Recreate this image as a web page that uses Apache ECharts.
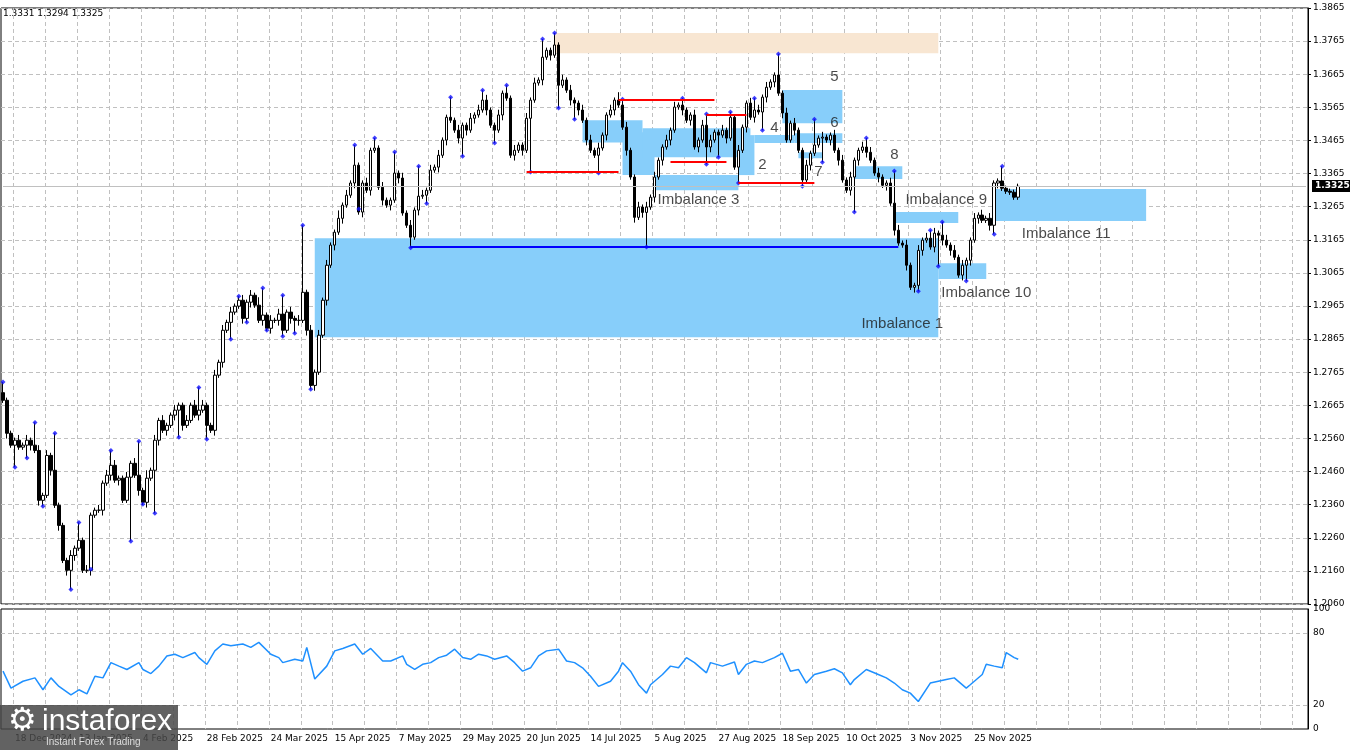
<!DOCTYPE html>
<html style="height: 100%">
<head>
    <meta charset="utf-8">
    <script src="https://cdn.jsdelivr.net/npm/echarts@6/dist/echarts.min.js"></script>
</head>
<body style="height:100%;margin:0;background:#fff">
    <div id="main" style="width:1350px;height:750px;"></div>
    <script type="text/javascript">
        // daily closes, left to right
        var closes = [
            1.2677,1.2577,1.2541,1.2556,1.2535,1.2541,1.2556,1.2541,
            1.2525,1.2374,1.2389,1.2510,1.2465,1.2359,1.2298,1.2192,
            1.2162,1.2207,1.2229,1.2253,1.2162,1.2162,1.2329,1.2344,
            1.2344,1.2426,1.2450,1.2480,1.2435,1.2441,1.2374,1.2444,
            1.2486,1.2450,1.2404,1.2368,1.2441,1.2465,1.2556,1.2616,
            1.2586,1.2601,1.2632,1.2647,1.2662,1.2601,1.2616,1.2662,
            1.2632,1.2647,1.2662,1.2601,1.2586,1.2753,1.2792,1.2889,
            1.2913,1.2944,1.2962,1.2980,1.2925,1.2974,1.2995,1.2965,
            1.2919,1.2935,1.2895,1.2919,1.2919,1.2938,1.2889,1.2944,
            1.2925,1.2919,1.2919,1.3004,1.2889,1.2722,1.2762,1.2874,
            1.2980,1.3086,1.3147,1.3186,1.3228,1.3268,1.3298,1.3335,
            1.3389,1.3247,1.3335,1.3313,1.3434,1.3441,1.3322,1.3283,
            1.3268,1.3283,1.3365,1.3350,1.3244,1.3207,1.3171,1.3253,
            1.3295,1.3298,1.3313,1.3374,1.3383,1.3419,1.3465,1.3534,
            1.3525,1.3495,1.3471,1.3510,1.3495,1.3531,1.3541,1.3556,
            1.3586,1.3556,1.3510,1.3495,1.3541,1.3607,1.3592,1.3419,
            1.3434,1.3450,1.3434,1.3531,1.3586,1.3638,1.3647,1.3716,
            1.3737,1.3722,1.3753,1.3631,1.3647,1.3616,1.3586,1.3577,
            1.3556,1.3525,1.3465,1.3434,1.3419,1.3441,1.3480,1.3541,
            1.3556,1.3586,1.3571,1.3504,1.3434,1.3353,1.3231,1.3262,
            1.3246,1.3262,1.3292,1.3353,1.3404,1.3444,1.3465,1.3495,
            1.3565,1.3571,1.3556,1.3525,1.3541,1.3444,1.3465,1.3510,
            1.3444,1.3465,1.3489,1.3480,1.3495,1.3471,1.3534,1.3383,
            1.3434,1.3504,1.3577,1.3534,1.3556,1.3550,1.3595,1.3625,
            1.3641,1.3662,1.3607,1.3547,1.3465,1.3516,1.3495,1.3434,
            1.3344,1.3389,1.3425,1.3450,1.3471,1.3474,1.3465,1.3480,
            1.3434,1.3404,1.3344,1.3313,1.3353,1.3404,1.3434,1.3444,
            1.3428,1.3404,1.3365,1.3353,1.3328,1.3335,1.3274,1.3192,
            1.3153,1.3147,1.3086,1.3019,1.3025,1.3131,1.3162,1.3168,
            1.3141,1.3183,1.3177,1.3162,1.3147,1.3131,1.3110,1.3056,
            1.3086,1.3101,1.3162,1.3228,1.3238,1.3222,1.3228,1.3207,
            1.3335,1.3341,1.3319,1.3310,1.3307,1.3292,1.3325
        ];
        // wick lengths, tens of pips
        var wickUp = "2111212112121211121312112121211212113121211211212121121212112121311212112121121212113121211212121121212112121211212112121211212121121212112121211212121121312112121211212121121212112121211212121121212112121211212121121212112121211212121121212112121211";
        var wickDn = "1212111212112121212111211212121121212112121212111212121212112121121212112121212112121211212121121212112121211212112121211212121121212112121211212121121212112121211212121121212112121211212121121212112121211212121121212112121211212121121212112121211212";
        // fractal highs / lows [bar, price]
        var fractals = [
            [0,1.2732],[3,1.2474],[8,1.2610],[6,1.2502],[10,1.2356],[13,1.2577],[17,1.2104],[19,1.2307],
            [22,1.2165],[27,1.2525],[32,1.2250],[34,1.2553],[35,1.2362],[38,1.2335],[44,1.2565],[49,1.2716],
            [51,1.2559],[57,1.2862],[59,1.2992],[61,1.2913],[65,1.3017],[66,1.2889],[70,1.2995],[70,1.2871],
            [73,1.2880],[75,1.3207],[77,1.2710],[88,1.3450],[89,1.3256],[93,1.3471],[98,1.3429],[104,1.3386],
            [106,1.3273],[102,1.3139],[112,1.3595],[115,1.3416],[120,1.3616],[123,1.3456],[126,1.3631],[132,1.3368],
            [135,1.3771],[138,1.3789],[139,1.3562],[143,1.3528],[149,1.3365],[155,1.3589],[161,1.3141],[170,1.3592],
            [176,1.3544],[176,1.3392],[179,1.3413],[182,1.3550],[184,1.3335],[188,1.3592],[190,1.3495],[194,1.3726],
            [200,1.3325],[203,1.3528],[205,1.3398],[213,1.3247],[216,1.3471],[223,1.3371],[229,1.3007],[232,1.3192],
            [234,1.3083],[235,1.3217],[241,1.3038],[248,1.3180],[250,1.3386]
        ];
        var rsiBars = [0,2,5,8,10,12,14,17,19,21,23,25,27,29,31,34,35,37,39,41,43,45,48,49,51,53,55,57,60,62,64,67,69,70,73,75,76,78,81,83,85,88,90,92,95,97,100,101,103,105,107,109,111,113,115,117,119,121,123,126,128,130,132,134,136,139,141,143,145,147,149,152,154,155,157,159,161,162,165,167,169,171,173,176,177,180,183,184,186,188,190,193,195,197,199,201,203,206,208,210,212,213,216,219,221,223,225,227,229,232,234,236,238,241,242,245,246,248,250,251,253,254];
        var rsiVals = [48.2,34.1,39.8,42.6,32.7,42.6,35.5,28.5,32.7,29.3,44.0,42.6,55.3,52.4,49.6,55.3,49.6,46.2,52.4,60.9,62.3,59.5,63.7,59.5,53.9,65.1,70.8,69.3,70.8,68.0,72.2,62.3,59.5,55.3,58.1,56.7,68.0,41.7,52.4,65.1,67.1,70.8,62.3,67.1,56.7,56.7,60.9,53.9,49.6,53.9,55.3,59.5,61.5,66.5,59.5,58.1,62.3,60.9,58.1,60.9,55.3,48.2,51.0,60.9,65.1,66.5,56.7,55.3,51.0,44.0,35.5,39.8,48.2,55.3,48.2,36.9,29.9,36.9,45.4,52.4,51.0,59.5,55.3,46.8,55.3,52.4,55.8,45.4,53.9,56.7,55.3,59.5,63.1,48.2,49.6,38.3,45.4,48.2,50.2,46.8,36.9,41.2,49.6,45.4,42.6,38.3,32.7,29.9,22.9,38.3,39.8,41.2,42.6,34.1,36.9,45.4,53.9,52.4,51.0,63.7,59.5,58.1];
        var dateTicks = {3:'18 Dec 2024',19:'13 Jan 2025',35:'4 Feb 2025',51:'28 Feb 2025',67:'24 Mar 2025',83:'15 Apr 2025',99:'7 May 2025',
            115:'29 May 2025',131:'20 Jun 2025',147:'14 Jul 2025',163:'5 Aug 2025',179:'27 Aug 2025',195:'18 Sep 2025',211:'10 Oct 2025',
            227:'3 Nov 2025',243:'25 Nov 2025'};
        var priceTicks = ['1.2060','1.2160','1.2260','1.2360','1.2460','1.2560','1.2665','1.2765','1.2865','1.2965',
            '1.3065','1.3165','1.3265','1.3365','1.3465','1.3565','1.3665','1.3765','1.3865'];
        // zones [fromBar, toBar, top, bottom]
        var blueZones = [
            [78,234,1.3168,1.2868],[145,160,1.3525,1.3458],[155,163,1.3489,1.3359],[160,187,1.3501,1.3413],
            [163,184,1.3359,1.3313],[184,188,1.3480,1.3359],[188,198,1.3480,1.3456],[195,210,1.3617,1.3516],
            [198,210,1.3486,1.3456],[199,205,1.3428,1.3410],[213,225,1.3386,1.3347],[223,239,1.3247,1.3214],
            [234,246,1.3092,1.3044],[248,286,1.3317,1.3220]
        ];
        var peachZones = [[138,234,1.3789,1.3728]];
        var redLevels = [[131,154,1.3368],[154,178,1.3586],[167,181,1.3398],[176,186,1.3541],[184,203,1.3335]];
        var blueLevels = [[102,224,1.3141]];
        var notes = [
            [174,1.3283,'Imbalance 3'],[190,1.3389,'2'],[193,1.3501,'4'],[208,1.3655,'5'],[208,1.3516,'6'],
            [204,1.3368,'7'],[223,1.3420,'8'],[236,1.3283,'Imbalance 9'],[246,1.3003,'Imbalance 10'],
            [266,1.3180,'Imbalance 11'],[225,1.2907,'Imbalance 1']
        ];
        var lastPrice = 1.3325;
        var nBars = 327;

        var cats = [];
        for (var i = 0; i < nBars; i++) cats.push(String(i));

        var ohlc = [];
        var prev = 1.2700;
        closes.forEach(function (c, i) {
            var hi = Math.max(prev, c) + (+(wickUp[i] || 1)) * 0.0008;
            var lo = Math.min(prev, c) - (+(wickDn[i] || 1)) * 0.0008;
            fractals.forEach(function (f) {
                if (f[0] === i) { if (f[1] > hi) hi = f[1]; if (f[1] < lo) lo = f[1]; }
            });
            ohlc.push([prev, c, lo, hi]);
            prev = c;
        });

        var pMin = 1.2060, pMax = 1.3865, pStep = (pMax - pMin) / 18;
        var font = '"DejaVu Sans", sans-serif';

        var myChart = echarts.init(document.getElementById('main'));
        var gridLine = { show: true, lineStyle: { color: '#c0c0c0', type: [4, 3], width: 1 } };
        option = {
            animation: false,
            backgroundColor: '#fff',
            grid: [
                { left: 1, right: 42, top: 8, height: 596, show: true, borderColor: '#000', borderWidth: 1 },
                { left: 1, right: 42, top: 609, height: 120, show: true, borderColor: '#000', borderWidth: 1 }
            ],
            xAxis: [
                { type: 'category', gridIndex: 0, data: cats, axisLine: { show: false }, axisTick: { show: false },
                  axisLabel: { show: false },
                  splitLine: { show: true, interval: function (i) { return (i - 3) % 8 === 0; }, lineStyle: gridLine.lineStyle } },
                { type: 'category', gridIndex: 1, data: cats, axisLine: { show: false }, axisTick: { show: false },
                  axisLabel: { show: true, interval: function (i) { return !!dateTicks[i]; }, formatter: function (v) { return dateTicks[+v] || ''; },
                    align: 'left', margin: 5, fontSize: 9, fontFamily: font, color: '#000' },
                  splitLine: { show: true, interval: function (i) { return (i - 3) % 8 === 0; }, lineStyle: gridLine.lineStyle } }
            ],
            yAxis: [
                { type: 'value', gridIndex: 0, position: 'right', min: pMin, max: pMax, interval: pStep,
                  axisLine: { show: true, lineStyle: { color: '#000' } }, axisTick: { show: true, length: 3, lineStyle: { color: '#000' } },
                  axisLabel: { fontSize: 9, fontFamily: font, color: '#000', margin: 5,
                    formatter: function (v) { return priceTicks[Math.round((v - pMin) / pStep)] || ''; } },
                  splitLine: gridLine },
                { type: 'value', gridIndex: 1, position: 'right', min: 0, max: 100, interval: 20,
                  axisLine: { show: true, lineStyle: { color: '#000' } }, axisTick: { show: false },
                  axisLabel: { fontSize: 9, fontFamily: font, color: '#000', margin: 5,
                    formatter: function (v) { return (v === 0 || v === 20 || v === 80 || v === 100) ? v : ''; } },
                  splitLine: { show: false } }
            ],
            series: [
                {
                    type: 'line', xAxisIndex: 0, yAxisIndex: 0, data: [], z: 1, silent: true,
                    markArea: {
                        silent: true,
                        data: blueZones.map(function (b) {
                            return [{ xAxis: b[0], yAxis: b[2], itemStyle: { color: '#87cefa' } }, { xAxis: b[1], yAxis: b[3] }];
                        }).concat(peachZones.map(function (b) {
                            return [{ xAxis: b[0], yAxis: b[2], itemStyle: { color: '#f8e6d2' } }, { xAxis: b[1], yAxis: b[3] }];
                        }))
                    },
                    markLine: {
                        silent: true, symbol: 'none',
                        data: [[{ xAxis: 0, yAxis: lastPrice, lineStyle: { color: '#c0c0c0', width: 1, type: 'solid' }, label: { show: false } },
                                { xAxis: nBars - 1, yAxis: lastPrice }]]
                            .concat(redLevels.map(function (r) {
                                return [{ coord: [r[0], r[2]], lineStyle: { color: '#ff0000', width: 2, type: 'solid' }, label: { show: false } },
                                        { coord: [r[1], r[2]] }];
                            }))
                            .concat(blueLevels.map(function (r) {
                                return [{ coord: [r[0], r[2]], lineStyle: { color: '#0000ff', width: 2, type: 'solid' }, label: { show: false } },
                                        { coord: [r[1], r[2]] }];
                            }))
                    }
                },
                {
                    type: 'candlestick', xAxisIndex: 0, yAxisIndex: 0, data: ohlc, z: 3, barWidth: 3,
                    itemStyle: { color: '#ffffff', color0: '#000000', borderColor: '#000000', borderColor0: '#000000', borderWidth: 1 }
                },
                {
                    type: 'scatter', xAxisIndex: 0, yAxisIndex: 0, z: 4, symbol: 'diamond', symbolSize: 5,
                    itemStyle: { color: '#1010ff' }, data: fractals
                },
                {
                    type: 'scatter', xAxisIndex: 0, yAxisIndex: 0, z: 5, symbolSize: 0,
                    data: notes.map(function (n) { return { value: [n[0], n[1]], name: n[2] }; }),
                    label: { show: true, position: 'inside', formatter: '{b}', fontSize: 15, color: '#1a1a1a',
                             fontFamily: '"Liberation Sans", Arial, sans-serif' }
                },
                {
                    type: 'line', xAxisIndex: 1, yAxisIndex: 1, z: 3, showSymbol: false,
                    data: rsiBars.map(function (b, i) { return [b, rsiVals[i]]; }),
                    lineStyle: { color: '#1e90ff', width: 1.5 },
                    markLine: {
                        silent: true, symbol: 'none', label: { show: false },
                        lineStyle: { color: '#c0c0c0', type: [4, 3], width: 1 },
                        data: [{ yAxis: 20 }, { yAxis: 80 }]
                    }
                }
            ],
            graphic: [
                { type: 'text', left: 3, top: 9, style: { text: '1.3331 1.3294 1.3325', font: '9px ' + font, fill: '#000' } },
                { type: 'rect', left: 1312, top: 180, shape: { width: 38, height: 12 }, style: { fill: '#000' }, z: 100 },
                { type: 'text', left: 1315, top: 181, z: 101, style: { text: lastPrice.toFixed(4), font: 'bold 9px ' + font, fill: '#fff' } },
                { type: 'rect', left: 0, top: 705, shape: { width: 178, height: 45 }, style: { fill: 'rgba(70,70,70,0.85)' }, z: 100 },
                { type: 'text', left: 8, top: 706, z: 101, style: { text: '\u2699', font: '32px ' + font, fill: '#fff' } },
                { type: 'text', left: 42, top: 707, z: 101, style: { text: 'instaforex', font: '30px "Liberation Sans", Arial, sans-serif', fill: '#fff' } },
                { type: 'text', left: 46, top: 737, z: 101, style: { text: 'Instant Forex Trading', font: '10px "Liberation Sans", Arial, sans-serif', fill: '#ddd' } }
            ]
        };
        myChart.setOption(option);
    </script>
</body>
</html>
